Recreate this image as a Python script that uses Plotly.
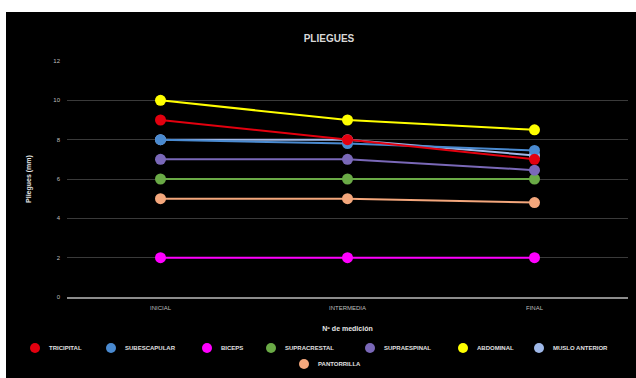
import plotly.graph_objects as go

categories = ["INICIAL", "INTERMEDIA", "FINAL"]
series_names = ["TRICIPITAL", "SUBESCAPULAR", "BICEPS", "SUPRACRESTAL",
                "SUPRAESPINAL", "ABDOMINAL", "MUSLO ANTERIOR", "PANTORRILLA"]
tricipital = [9, 8, 7]
subescapular = [8, 7.8, 7.45]
biceps = [2, 2, 2]
supracrestal = [6, 6, 6]
supraespinal = [7, 7, 6.45]
abdominal = [10, 9, 8.5]
muslo_anterior = [8, 8, 7.2]
pantorrilla = [5, 5, 4.8]
values = [tricipital, subescapular, biceps, supracrestal,
          supraespinal, abdominal, muslo_anterior, pantorrilla]
colors = ["#e3000f", "#4a8ad0", "#ff00ff", "#6aaa46",
          "#7a68b8", "#ffff00", "#9fb8e8", "#f4a77c"]
y_ticks = [0, 2, 4, 6, 8, 10, 12]

W, H = 636, 378
ML, MR, MT, MB = 67, 8, 61, 81
PW, PH = W - ML - MR, H - MT - MB


def px_x(x):
    return (x - ML) / PW


def px_y(y):
    return (H - MB - y) / PH


FONT = "Liberation Sans Narrow, Arial Narrow, Arial"

fig = go.Figure()
order = [7, 3, 4, 6, 1, 0, 2, 5]
for i in order:
    fig.add_trace(go.Scatter(
        x=categories, y=values[i], mode="lines+markers", name=series_names[i],
        line=dict(color=colors[i], width=2),
        marker=dict(color=colors[i], size=11),
        showlegend=False))

# white page strips around the black chart area
fig.add_shape(type="rect", xref="paper", yref="paper",
              x0=px_x(0), x1=px_x(W), y0=px_y(12), y1=px_y(0),
              fillcolor="white", line=dict(width=0), layer="below")
fig.add_shape(type="rect", xref="paper", yref="paper",
              x0=px_x(0), x1=px_x(6), y0=px_y(H), y1=px_y(0),
              fillcolor="white", line=dict(width=0), layer="below")

# legend (manual layout to match the reference spacing)
legend_pos = [(35, 348), (111, 348), (207, 348), (271, 348),
              (370, 348), (463, 348), (539, 348), (304, 364)]
for name, col, (mx, my) in zip(series_names, colors, legend_pos):
    fig.add_shape(type="circle", xref="paper", yref="paper",
                  xsizemode="pixel", ysizemode="pixel",
                  xanchor=px_x(mx), yanchor=px_y(my),
                  x0=-5, x1=5, y0=-5, y1=5,
                  fillcolor=col, line=dict(width=0))
    fig.add_annotation(xref="paper", yref="paper", x=px_x(mx + 12), y=px_y(my),
                       xanchor="left", yanchor="middle", showarrow=False,
                       text="<b>" + name + "</b>",
                       font=dict(size=6, color="#e0e0e0", family=FONT))

fig.update_layout(
    width=W, height=H,
    paper_bgcolor="black", plot_bgcolor="black",
    margin=dict(l=ML, r=MR, t=MT, b=MB),
    title=dict(text="<b>PLIEGUES</b>", x=329 / W, xanchor="center",
               y=1 - 38 / H, yanchor="middle",
               font=dict(color="#d9d9d9", size=10, family=FONT)),
    font=dict(family=FONT, color="#bfbfbf", size=6),
    showlegend=False,
    xaxis=dict(type="category", range=[-0.5, 2.5], showgrid=False,
               showline=True, linecolor="#8c8c8c", linewidth=1.5,
               ticks="", ticklabelstandoff=4,
               tickfont=dict(size=6, color="#bfbfbf"),
               title=dict(text="<b>Nº de medición</b>", standoff=16,
                          font=dict(size=7, color="#e6e6e6"))),
    yaxis=dict(range=[0, 12], tickvals=y_ticks, showgrid=True,
               gridcolor="#3a3a3a", gridwidth=1, zeroline=False,
               ticklabelstandoff=6,
               tickfont=dict(size=6, color="#bfbfbf"), ticklen=0,
               title=dict(text="<b>Pliegues (mm)</b>", standoff=20,
                          font=dict(size=7, color="#e6e6e6"))),
)
fig.write_html("out.html")
